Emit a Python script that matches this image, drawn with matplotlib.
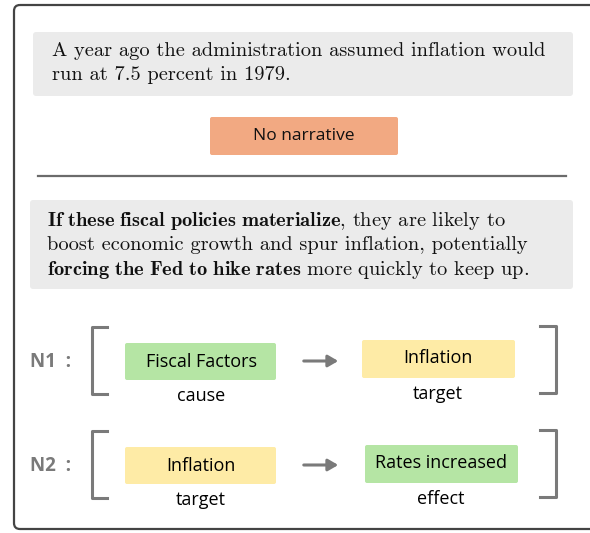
import matplotlib
matplotlib.use("Agg")
import matplotlib.pyplot as plt
from matplotlib.patches import FancyBboxPatch

plt.rcParams["mathtext.fontset"] = "cm"

# --- content ---
sentence_1 = ["A year ago the administration assumed inflation would",
              "run at 7.5 percent in 1979."]
sentence_1_tag = "No narrative"
sentence_2 = [r"$\mathbf{If\ these\ fiscal\ policies\ materialize}$, they are likely to",
              "boost economic growth and spur inflation, potentially",
              r"$\mathbf{forcing\ the\ Fed\ to\ hike\ rates}$ more quickly to keep up."]
narr_names = ["N1 :", "N2 :"]
src_nodes = ["Fiscal Factors", "Inflation"]
src_roles = ["cause", "target"]
dst_nodes = ["Inflation", "Rates increased"]
dst_roles = ["target", "effect"]

W, H = 590, 533
GREEN, YELLOW, SALMON, GREY_BOX = "#b5e5a4", "#feeba6", "#f2a982", "#ebebeb"
ROLE_COL = {"cause": GREEN, "effect": GREEN, "target": YELLOW}
SERIF = "cmr10"
SANS = "Open Sans"
FS_SERIF, FS_SANS = 14.7, 13

fig = plt.figure(figsize=(W / 100, H / 100), dpi=100)
ax = fig.add_axes([0, 0, 1, 1])
ax.set_xlim(0, W); ax.set_ylim(H, 0); ax.axis("off")


def box(x0, y0, x1, y1, fc, ec="none", lw=0, r=3):
    ax.add_patch(FancyBboxPatch((x0, y0), x1 - x0, y1 - y0,
                                boxstyle=f"round,pad=0,rounding_size={r}",
                                fc=fc, ec=ec, lw=lw))


# outer frame (right edge runs off the picture)
box(14, 5, 640, 529, "none", ec="#444444", lw=1.6, r=6)

# first example
box(33, 32, 573, 96, GREY_BOX)
for i, line in enumerate(sentence_1):
    ax.text(52, 51 + 24.5 * i, line, family=SERIF, fontsize=FS_SERIF, va="center", color="#111111")
box(210, 117, 398, 155, SALMON, r=2)
ax.text(304, 136, sentence_1_tag, family=SANS, fontsize=12.5, ha="center", va="center", color="#111111")

ax.plot([38, 566], [176, 176], color="#6b6b6b", lw=1.6)

# second example
box(30, 200, 573, 289, GREY_BOX)
for i, line in enumerate(sentence_2):
    ax.text(47, 221 + 24.5 * i, line, family=SERIF, fontsize=FS_SERIF, va="center", color="#111111")

# narratives
row_y = [361, 465]
for k, yc in enumerate(row_y):
    ax.text(30, yc + 1, narr_names[k].replace(" ", "  "), family=SANS, fontsize=13.5,
            fontweight="bold", color="#7a7a7a", va="center")
    top, bot = yc - 34, yc + 33
    ax.plot([107, 92, 92, 107], [top, top, bot, bot], color="#7a7a7a", lw=2.2,
            solid_joinstyle="round")
    ax.plot([540, 556, 556, 540], [top - 1, top - 1, bot - 1, bot - 1], color="#7a7a7a",
            lw=2.2, solid_joinstyle="round")

    box(125, yc - 18, 276, yc + 19, ROLE_COL[src_roles[k]], r=2)
    ax.text(201, yc + 1, src_nodes[k], family=SANS, fontsize=FS_SANS, ha="center", va="center")
    ax.text(201, yc + 35, src_roles[k], family=SANS, fontsize=FS_SANS, ha="center", va="center")

    dy = -2 if k == 0 else -1
    x0 = 362 if k == 0 else 365
    box(x0, yc - 20 + dy + 1, x0 + 153, yc + 17 + dy + 2, ROLE_COL[dst_roles[k]], r=2)
    ax.text(x0 + 76, yc - 1 + dy, dst_nodes[k], family=SANS, fontsize=FS_SANS, ha="center", va="center")
    ax.text(x0 + 76, yc + 35 + dy, dst_roles[k], family=SANS, fontsize=FS_SANS, ha="center", va="center")

    ax.annotate("", xy=(341, yc), xytext=(301, yc),
                arrowprops=dict(arrowstyle="-|>,head_length=0.6,head_width=0.35",
                                color="#7a7a7a", lw=2.2))

fig.savefig("out.png", dpi=100)
